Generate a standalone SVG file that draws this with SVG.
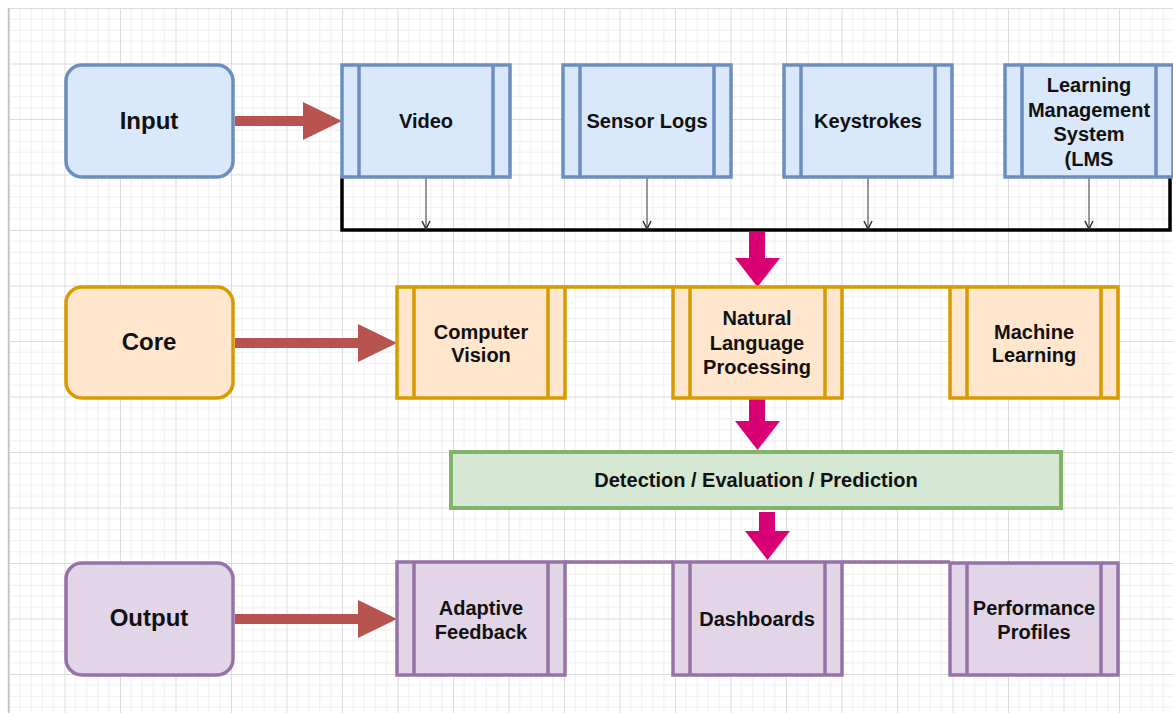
<svg xmlns="http://www.w3.org/2000/svg" width="1173" height="713" viewBox="0 0 1173 713">
  <defs>
    <pattern id="grid" x="9" y="8" width="55.5" height="55.5" patternUnits="userSpaceOnUse">
      <path d="M11.1 0V55.5M22.2 0V55.5M33.3 0V55.5M44.4 0V55.5M0 11.1H55.5M0 22.2H55.5M0 33.3H55.5M0 44.4H55.5" fill="none" stroke="#efefef" stroke-width="1"/>
      <path d="M0.5 0V55.5M0 0.5H55.5" fill="none" stroke="#dcdcdc" stroke-width="1"/>
    </pattern>
    <marker id="open" viewBox="0 0 10 10" refX="9" refY="5" markerWidth="10" markerHeight="10" markerUnits="userSpaceOnUse" orient="auto">
      <path d="M1 1L9 5L1 9" fill="none" stroke="#333" stroke-width="1.5"/>
    </marker>
    <style>
      .lbl{font-family:"Liberation Sans",Arial,sans-serif;font-weight:bold;font-size:20px;fill:#111;text-anchor:middle}
      .big{font-size:24px}
      .blue{fill:#dae8fc;stroke:#6c8ebf;stroke-width:3.5}
      .blueL{stroke:#6c8ebf;stroke-width:3.5}
      .orange{fill:#ffe6cc;stroke:#d79b00;stroke-width:3.5}
      .orangeL{stroke:#d79b00;stroke-width:3.5;fill:none}
      .purple{fill:#e1d5e7;stroke:#9673a6;stroke-width:3.5}
      .purpleL{stroke:#9673a6;stroke-width:3.5;fill:none}
      .red{fill:#b85450}
      .pink{fill:#d80073}
    </style>
  </defs>
  <rect width="1173" height="713" fill="#ffffff"/>
  <rect x="9" y="8" width="1164" height="705" fill="url(#grid)"/>
  <line x1="8.5" y1="8" x2="8.5" y2="713" stroke="#c4c4c4" stroke-width="1.5"/>

  <g id="connectors">
    <path d="M342 177V230H1170V177" fill="none" stroke="#000" stroke-width="3.5"/>
    <line x1="426" y1="178" x2="426" y2="229" stroke="#333" stroke-width="1" marker-end="url(#open)"/>
    <line x1="647" y1="178" x2="647" y2="229" stroke="#333" stroke-width="1" marker-end="url(#open)"/>
    <line x1="868" y1="178" x2="868" y2="229" stroke="#333" stroke-width="1" marker-end="url(#open)"/>
    <line x1="1089" y1="178" x2="1089" y2="229" stroke="#333" stroke-width="1" marker-end="url(#open)"/>
    <path class="red" d="M235 116H303V102L342 121L303 140V126H235Z"/>
    <path class="red" d="M235 338H358V324L397 343L358 362V348H235Z"/>
    <path class="red" d="M235 614H358V600L397 619L358 638V624H235Z"/>
    <path class="pink" d="M749 232H765V258H780L757.5 287L735 258H749Z"/>
    <path class="pink" d="M749 399H765V421H780L757.5 450L735 421H749Z"/>
    <path class="pink" d="M759 512H775V531H790L767.5 560L745 531H759Z"/>
    <path class="orangeL" d="M565 287H673M842 287H950"/>
    <path class="purpleL" d="M565 562H673M842 562H950"/>
  </g>

  <g id="input">
    <rect class="blue" x="66" y="65" width="167" height="112" rx="16"/>
    <text class="lbl big" x="149" y="129">Input</text>
  </g>
  <g id="video">
    <rect class="blue" x="342" y="65" width="168" height="112"/>
    <path class="blueL" d="M359 65V177M493 65V177"/>
    <text class="lbl" x="426" y="128">Video</text>
  </g>
  <g id="sensor-logs">
    <rect class="blue" x="563" y="65" width="168" height="112"/>
    <path class="blueL" d="M580 65V177M714 65V177"/>
    <text class="lbl" x="647" y="128">Sensor Logs</text>
  </g>
  <g id="keystrokes">
    <rect class="blue" x="784" y="65" width="168" height="112"/>
    <path class="blueL" d="M801 65V177M935 65V177"/>
    <text class="lbl" x="868" y="128">Keystrokes</text>
  </g>
  <g id="lms">
    <rect class="blue" x="1005" y="65" width="168" height="112"/>
    <path class="blueL" d="M1022 65V177M1156 65V177"/>
    <text class="lbl" x="1089" y="92">Learning</text>
    <text class="lbl" x="1089" y="117">Management</text>
    <text class="lbl" x="1089" y="141">System</text>
    <text class="lbl" x="1089" y="166">(LMS</text>
  </g>

  <g id="core">
    <rect class="orange" x="66" y="287" width="167" height="111" rx="16"/>
    <text class="lbl big" x="149" y="350">Core</text>
  </g>
  <g id="computer-vision">
    <rect class="orange" x="397" y="287" width="168" height="111"/>
    <path class="orangeL" d="M414 287V398M548 287V398"/>
    <text class="lbl" x="481" y="339">Computer</text>
    <text class="lbl" x="481" y="362">Vision</text>
  </g>
  <g id="nlp">
    <rect class="orange" x="673" y="287" width="169" height="111"/>
    <path class="orangeL" d="M690 287V398M825 287V398"/>
    <text class="lbl" x="757" y="325">Natural</text>
    <text class="lbl" x="757" y="350">Language</text>
    <text class="lbl" x="757" y="374">Processing</text>
  </g>
  <g id="machine-learning">
    <rect class="orange" x="950" y="287" width="168" height="111"/>
    <path class="orangeL" d="M967 287V398M1101 287V398"/>
    <text class="lbl" x="1034" y="339">Machine</text>
    <text class="lbl" x="1034" y="362">Learning</text>
  </g>

  <g id="detection">
    <rect x="451" y="452" width="610" height="56" fill="#d5e8d4" stroke="#82b366" stroke-width="4"/>
    <text class="lbl" x="756" y="487">Detection / Evaluation / Prediction</text>
  </g>

  <g id="output">
    <rect class="purple" x="66" y="563" width="167" height="112" rx="16"/>
    <text class="lbl big" x="149" y="626">Output</text>
  </g>
  <g id="adaptive-feedback">
    <rect class="purple" x="397" y="562" width="168" height="113"/>
    <path class="purpleL" d="M414 562V675M548 562V675"/>
    <text class="lbl" x="481" y="615">Adaptive</text>
    <text class="lbl" x="481" y="639">Feedback</text>
  </g>
  <g id="dashboards">
    <rect class="purple" x="673" y="562" width="169" height="113"/>
    <path class="purpleL" d="M690 562V675M825 562V675"/>
    <text class="lbl" x="757" y="626">Dashboards</text>
  </g>
  <g id="performance-profiles">
    <rect class="purple" x="950" y="563" width="168" height="112"/>
    <path class="purpleL" d="M967 563V675M1101 563V675"/>
    <text class="lbl" x="1034" y="615">Performance</text>
    <text class="lbl" x="1034" y="639">Profiles</text>
  </g>
</svg>
